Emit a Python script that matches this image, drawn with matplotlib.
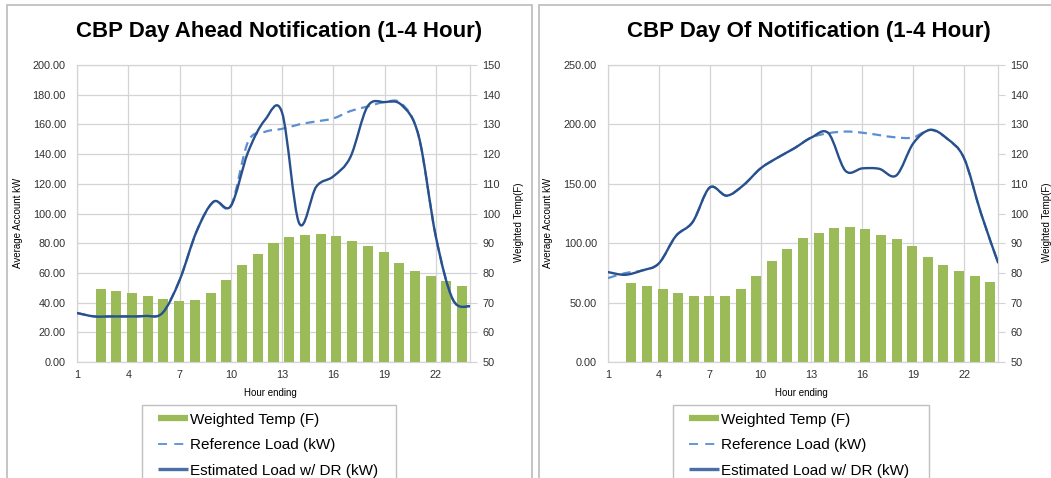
import matplotlib
matplotlib.use("Agg")
import matplotlib.pyplot as plt
from matplotlib.path import Path
from matplotlib.patches import PathPatch, Rectangle
from matplotlib.lines import Line2D
from matplotlib.ticker import FormatStrFormatter, FixedLocator
import numpy as np

plt.rcParams['font.family'] = ['Liberation Sans', 'DejaVu Sans']

# ---------------- data ----------------
hours = list(range(1, 25))
hour_ticks = [1, 4, 7, 10, 13, 16, 19, 22]
bar_slots = 25                       # category slots on the bar axis (first slot empty)
bar_categories = list(range(1, 25))  # slots holding the hourly temperature bars

titles = ["CBP Day Ahead Notification (1-4 Hour)", "CBP Day Of Notification (1-4 Hour)"]

ahead_temp = [74.7, 73.9, 73.2, 72.1, 71.2, 70.7, 71.0, 73.2, 77.5, 82.6, 86.4, 90.0,
              92.0, 92.8, 93.2, 92.3, 90.6, 89.2, 87.0, 83.3, 80.8, 79.0, 77.4, 75.7]
ahead_est = [33, 30.7, 30.7, 30.7, 31, 33, 55, 88, 108, 105, 141, 163,
             168, 93.5, 118, 125, 138, 172, 175, 173, 152, 84.5, 42, 37.5]
ahead_ref = [33, 30.7, 30.7, 30.7, 31, 33, 55, 88, 108, 105, 148, 155,
             157, 160, 162, 164, 169, 172, 175, 174, 152, 84.5, 42, 37.5]

dayof_temp = [76.6, 75.7, 74.6, 73.2, 72.3, 72.1, 72.3, 74.6, 78.8, 83.9, 88.1, 91.7,
              93.6, 95.1, 95.4, 94.7, 92.8, 91.5, 89.1, 85.3, 82.7, 80.7, 79.1, 77.1]
dayof_est = [75.7, 73.4, 77, 83, 106, 118, 146.9, 140, 149, 163, 172, 180,
             189, 192.6, 161, 163, 162.6, 157, 184, 195.4, 188, 171.5, 125, 83.8]
dayof_ref = [70.6, 74.8, 77, 83, 106, 118, 146.9, 140, 149, 163, 172, 180,
             189, 192.6, 194, 193, 191, 189, 189, 195.4, 188, 171.5, 125, 83.8]

left_limits = [(0, 200, 20), (0, 250, 50)]
right_limits = (50, 150, 10)

legend_labels = ["Weighted Temp (F)", "Reference Load (kW)", "Estimated Load w/ DR (kW)"]

# ---------------- style ----------------
GREEN = "#9BBB59"
DARK = "#28508C"
LIGHT = "#5B8FD2"
GRID = "#d4d4d4"
FRAME = "#c0c0c0"
TXT = "#303030"

W, H = 1051, 478
fig = plt.figure(figsize=(W / 100, H / 100), dpi=100)


def fr(x0, y0, x1, y1):
    return [x0 / W, 1 - y1 / H, (x1 - x0) / W, (y1 - y0) / H]


def smooth_path(xs, ys):
    pts = np.column_stack([xs, ys]).astype(float)
    n = len(pts)
    verts = [pts[0]]
    codes = [Path.MOVETO]
    for i in range(n - 1):
        p0 = pts[i - 1] if i > 0 else pts[i]
        p1 = pts[i]
        p2 = pts[i + 1]
        p3 = pts[i + 2] if i + 2 < n else pts[i + 1]
        c1 = p1 + (p2 - p0) / 6.0
        c2 = p2 - (p3 - p1) / 6.0
        verts += [c1, c2, p2]
        codes += [Path.CURVE4] * 3
    return Path(verts, codes)


panels = [
    dict(rect=(77, 65, 470, 362), temp=ahead_temp, est=ahead_est, ref=ahead_ref,
         title_x=279, ylab_x=23, rlab_x=514, xlab_x=270, leg=(142, 396), frame=(7, 532)),
    dict(rect=(608, 65, 998, 362), temp=dayof_temp, est=dayof_est, ref=dayof_ref,
         title_x=809, ylab_x=553, rlab_x=1042, xlab_x=801, leg=(673, 929), frame=(539, 1060)),
]

for i, p in enumerate(panels):
    x0, y0, x1, y1 = p["rect"]
    # panel frame
    fx0, fx1 = p["frame"]
    fig.add_artist(Rectangle((fx0 / W, -0.1), (fx1 - fx0) / W, 1 - 5 / H + 0.1,
                             transform=fig.transFigure, fill=False,
                             edgecolor=FRAME, lw=1.3))

    lo, hi, st = left_limits[i]
    # grid / base axes
    axg = fig.add_axes(fr(x0, y0, x1, y1))
    axg.set_xlim(1, 24)
    axg.set_ylim(lo, hi)
    axg.yaxis.set_major_locator(FixedLocator(np.arange(lo, hi + 0.1, st)))
    axg.yaxis.set_major_formatter(FormatStrFormatter('%.2f'))
    axg.xaxis.set_major_locator(FixedLocator(hour_ticks))
    axg.grid(True, color=GRID, lw=0.9)
    axg.set_axisbelow(True)
    axg.tick_params(axis='both', length=0, labelsize=7.8, colors=TXT)
    axg.tick_params(axis='y', pad=8)
    axg.tick_params(axis='x', pad=6)
    for s in axg.spines.values():
        s.set_color(GRID)
        s.set_linewidth(0.9)
    axg.set_ylabel("Average Account kW", fontsize=7, color="black")
    axg.yaxis.set_label_coords((p["ylab_x"] - x0) / (x1 - x0), 0.47)
    axg.set_xlabel("Hour ending", fontsize=7, color="black")
    axg.xaxis.set_label_coords((p["xlab_x"] - x0) / (x1 - x0), -(388 - y1) / (y1 - y0))

    # bar axes (secondary)
    axb = fig.add_axes(fr(x0, y0, x1, y1))
    axb.patch.set_visible(False)
    axb.set_xlim(-0.5, bar_slots - 0.5)
    rlo, rhi, rst = right_limits
    axb.set_ylim(rlo, rhi)
    axb.bar(bar_categories, p["temp"], width=0.64, color=GREEN, zorder=2)
    axb.yaxis.tick_right()
    axb.yaxis.set_label_position("right")
    axb.yaxis.set_major_locator(FixedLocator(np.arange(rlo, rhi + 0.1, rst)))
    axb.tick_params(axis='y', length=5, labelsize=7.8, colors=TXT, pad=4)
    axb.tick_params(axis='y', color=GRID)
    axb.set_xticks([])
    for s in axb.spines.values():
        s.set_visible(False)
    axb.set_ylabel("Weighted Temp(F)", fontsize=7, color="black")
    axb.yaxis.set_label_coords((p["rlab_x"] - x0) / (x1 - x0), 0.47)

    # line axes (top)
    axl = fig.add_axes(fr(x0, y0, x1, y1), sharex=axg, sharey=axg)
    axl.patch.set_visible(False)
    axl.axis('off')
    axl.add_patch(PathPatch(smooth_path(hours, p["ref"]), fill=False, edgecolor=LIGHT,
                            lw=1.6, linestyle=(0, (4, 2.5)), zorder=3))
    axl.add_patch(PathPatch(smooth_path(hours, p["est"]), fill=False, edgecolor=DARK,
                            lw=1.7, zorder=4, capstyle='round'))

    # title
    fig.text(p["title_x"] / W, 1 - 32 / H, titles[i], ha='center', va='center',
             fontsize=16, fontweight='bold', color='black')

    # legend (box drawn separately so its padding matches)
    lx0, lx1 = p["leg"]
    fig.add_artist(Rectangle((lx0 / W, -0.1), (lx1 - lx0) / W, 1 - 405 / H + 0.1,
                             transform=fig.transFigure, fill=False,
                             edgecolor=FRAME, lw=1.0))
    handles = [Line2D([], [], color=GREEN, lw=4.5, solid_capstyle='butt'),
               Line2D([], [], color=LIGHT, lw=1.3, linestyle=(0, (5, 4))),
               Line2D([], [], color="#4A6FA5", lw=2.4, solid_capstyle='butt')]
    fig.legend(handles, legend_labels, loc='upper left',
               bbox_to_anchor=((lx0 + 8) / W, 1 - 405 / H),
               fontsize=11, frameon=False,
               handlelength=2.0, handletextpad=0.15, labelspacing=0.75,
               borderpad=0.5, borderaxespad=0)

fig.savefig("out.png", dpi=100)
